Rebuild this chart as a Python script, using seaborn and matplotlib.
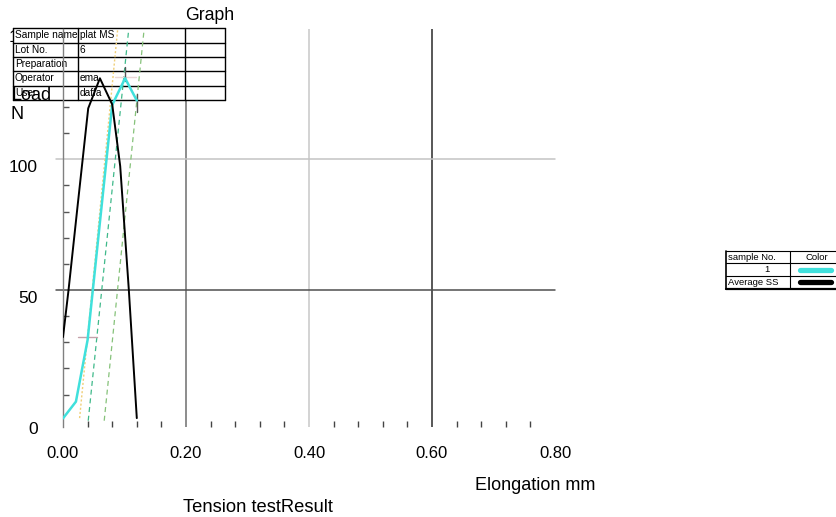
import numpy as np
import pandas as pd
import matplotlib
matplotlib.use("Agg")
import matplotlib.pyplot as plt
import matplotlib.transforms as mtransforms
from matplotlib.patches import Rectangle
from matplotlib.lines import Line2D
import seaborn as sns

# ---------------- data ----------------
sample_x = [0.000, 0.021, 0.040, 0.080, 0.101, 0.120]
sample_y = [0.9, 7.3, 30.9, 120.8, 131.0, 122.5]

avg_x = [0.000, 0.009, 0.023, 0.041, 0.060, 0.080, 0.093, 0.107, 0.120]
avg_y = [32.0, 50.0, 80.6, 119.5, 131.0, 121.0, 97.4, 50.2, 1.0]

yellow_x = [0.027, 0.089]
yellow_y = [1.0, 150.0]
green1_x = [0.041, 0.107]
green1_y = [0.0, 150.0]
green2_x = [0.067, 0.132]
green2_y = [0.0, 150.0]

mark_h1_x = [0.025, 0.056]
mark_h1_y = [32.1, 32.1]
mark_h2_x = [0.085, 0.118]
mark_h2_y = [131.6, 131.6]
mark_v1_x = [0.100, 0.100]
mark_v1_y = [130.0, 135.5]
mark_v2_x = [0.120, 0.120]
mark_v2_y = [118.0, 125.0]

x_ticks = [0.0, 0.2, 0.4, 0.6, 0.8]
x_tick_labels = ["0.00", "0.20", "0.40", "0.60", "0.80"]
y_ticks = [0, 50, 100, 150]
y_tick_labels = ["0", "50", "100", "150"]
grid_x = [0.2, 0.4, 0.6]
grid_x_colors = ["#6e6e6e", "#c8c8c8", "#2a2a2a"]
grid_y = [50, 100]
grid_y_colors = ["#505050", "#c4c4c4"]

info_labels = ["Sample name", "Lot No.", "Preparation", "Operator", "User"]
info_values = ["plat MS", "6", "", "ema", "daffa"]

legend_names = ["1", "Average SS"]
legend_colors = ["#40e0dc", "#000000"]

# ---------------- figure ----------------
sns.set_theme(style="white")
plt.rcParams['font.family'] = ['Liberation Sans', 'DejaVu Sans']
plt.rcParams['text.color'] = 'black'
plt.rcParams['xtick.color'] = 'black'
plt.rcParams['ytick.color'] = 'black'

W, H = 837, 517
fig = plt.figure(figsize=(W / 100, H / 100), dpi=100)


def fx(px):
    return px / W


def fy(py):
    return 1 - py / H


ax = fig.add_axes([fx(63), fy(427), fx(555) - fx(63), fy(28.6) - fy(427)])
ax.set_xlim(0, 0.8)
ax.set_ylim(-2.4, 150)

# grid lines
for gx, c in zip(grid_x, grid_x_colors):
    ax.axvline(gx, color=c, lw=1.1, zorder=0.6)
for gy, c in zip(grid_y, grid_y_colors):
    ax.axhline(gy, xmin=-0.014, xmax=1.0, color=c, lw=1.1, zorder=0.6, clip_on=False)

# info table (drawn inside axes, under curves)
rows_y = [28.3, 42.6, 56.9, 71.2, 85.5, 99.8]
cols_x = [13, 78, 185, 225]
ax.add_patch(Rectangle((fx(cols_x[0]), fy(rows_y[-1])), fx(cols_x[-1]) - fx(cols_x[0]),
                       fy(rows_y[0]) - fy(rows_y[-1]), transform=fig.transFigure,
                       facecolor="white", edgecolor="none", zorder=1.0, clip_on=False))
for ry in rows_y:
    ax.add_line(Line2D([fx(cols_x[0]), fx(cols_x[-1])], [fy(ry), fy(ry)], transform=fig.transFigure,
                       color="black", lw=1.0, zorder=1.1, clip_on=False))
for cx in cols_x:
    ax.add_line(Line2D([fx(cx), fx(cx)], [fy(rows_y[0]), fy(rows_y[-1])], transform=fig.transFigure,
                       color="black", lw=1.0, zorder=1.1, clip_on=False))
for i, (lab, val) in enumerate(zip(info_labels, info_values)):
    yc = (rows_y[i] + rows_y[i + 1]) / 2
    ax.text(fx(cols_x[0] + 2), fy(yc), lab, transform=fig.transFigure, fontsize=7.3,
            va="center", ha="left", zorder=1.2, clip_on=False, color="black")
    ax.text(fx(cols_x[1] + 2), fy(yc), val, transform=fig.transFigure, fontsize=7.3,
            va="center", ha="left", zorder=1.2, clip_on=False, color="black")

# construction lines
sns.lineplot(x=yellow_x, y=yellow_y, ax=ax, color="#f0cf78", lw=1.0, linestyle=(0, (1.5, 1.5)),
             sort=False, estimator=None, zorder=2)
sns.lineplot(x=green1_x, y=green1_y, ax=ax, color="#3fb98a", lw=0.9, linestyle=(0, (4, 3)),
             sort=False, estimator=None, zorder=2)
sns.lineplot(x=green2_x, y=green2_y, ax=ax, color="#86c27a", lw=0.9, linestyle=(0, (4, 3)),
             sort=False, estimator=None, zorder=2)

# markers
sns.lineplot(x=mark_h1_x, y=mark_h1_y, ax=ax, color="#c4a2aa", lw=1.0, sort=False, estimator=None, zorder=2)
sns.lineplot(x=mark_h2_x, y=mark_h2_y, ax=ax, color="#ead6d6", lw=1.0, sort=False, estimator=None, zorder=2)
sns.lineplot(x=mark_v1_x, y=mark_v1_y, ax=ax, color="#555555", lw=1.0, sort=False, estimator=None, zorder=2)
sns.lineplot(x=mark_v2_x, y=mark_v2_y, ax=ax, color="#555555", lw=1.0, sort=False, estimator=None, zorder=2)

# curves
sns.lineplot(x=sample_x, y=sample_y, ax=ax, color=legend_colors[0], lw=1.8, sort=False,
             estimator=None, zorder=3)
sns.lineplot(x=avg_x, y=avg_y, ax=ax, color=legend_colors[1], lw=1.4, sort=False,
             estimator=None, zorder=3.1)

# axes styling
for s in ["top", "right", "bottom"]:
    ax.spines[s].set_visible(False)
ax.spines["left"].set_color("#808080")
ax.spines["left"].set_linewidth(1.0)

ax.set_xticks(x_ticks)
ax.set_xticklabels(x_tick_labels)
ax.set_yticks(y_ticks)
ax.set_yticklabels(y_tick_labels)
ax.set_xticks([v for v in np.round(np.arange(0.04, 0.8, 0.04), 2) if v not in x_ticks], minor=True)
ax.set_yticks([v for v in range(10, 150, 10) if v not in y_ticks], minor=True)
ax.tick_params(axis="x", which="major", length=0, pad=14, labelsize=12, labelcolor="black")
ax.tick_params(axis="y", which="major", length=0, pad=18, labelsize=12.5, labelcolor="black")
ax.tick_params(axis="x", which="minor", bottom=True, direction="in", length=4, width=1, color="#444444")
ax.tick_params(axis="y", which="minor", left=True, direction="in", length=4, width=1, color="#555555")
offset = mtransforms.ScaledTranslation(0, -7 / 100, fig.dpi_scale_trans)
for lab in ax.get_yticklabels():
    lab.set_transform(lab.get_transform() + offset)
ax.set_xlabel("")
ax.set_ylabel("")

# texts
fig.text(fx(210), fy(15), "Graph", ha="center", va="center", fontsize=12.7, color="black")
fig.text(fx(535), fy(485), "Elongation mm", ha="center", va="center", fontsize=13, color="black")
fig.text(fx(258), fy(507), "Tension testResult", ha="center", va="center", fontsize=13.2, color="black")
fig.text(fx(12), fy(100), "Load", ha="left", va="baseline", fontsize=13, zorder=10, color="black")
fig.text(fx(10), fy(119), "N", ha="left", va="baseline", fontsize=13, zorder=10, color="black")

# legend table
lrows = [250.7, 263.3, 275.9, 288.5]
lcols = [726, 790, 850]
for ry in lrows:
    fig.add_artist(Line2D([fx(lcols[0]), fx(lcols[-1])], [fy(ry), fy(ry)], color="black",
                          lw=1.6 if ry == lrows[-1] else 0.8))
for cx in lcols:
    fig.add_artist(Line2D([fx(cx), fx(cx)], [fy(lrows[0]), fy(lrows[-1])], color="black",
                          lw=1.2 if cx == lcols[0] else 0.8))
fig.text(fx(728), fy((lrows[0] + lrows[1]) / 2), "sample No.", ha="left", va="center", fontsize=6.8)
fig.text(fx(817), fy((lrows[0] + lrows[1]) / 2), "Color", ha="center", va="center", fontsize=6.8)
fig.text(fx(770), fy((lrows[1] + lrows[2]) / 2), legend_names[0], ha="right", va="center", fontsize=6.8)
fig.text(fx(728), fy((lrows[2] + lrows[3]) / 2), legend_names[1], ha="left", va="center", fontsize=6.8)
for i, c in enumerate(legend_colors):
    yc = (lrows[i + 1] + lrows[i + 2]) / 2
    fig.add_artist(Line2D([fx(800), fx(831)], [fy(yc), fy(yc)], color=c, lw=3.8,
                          solid_capstyle="round"))

fig.savefig("out.png", dpi=100)
